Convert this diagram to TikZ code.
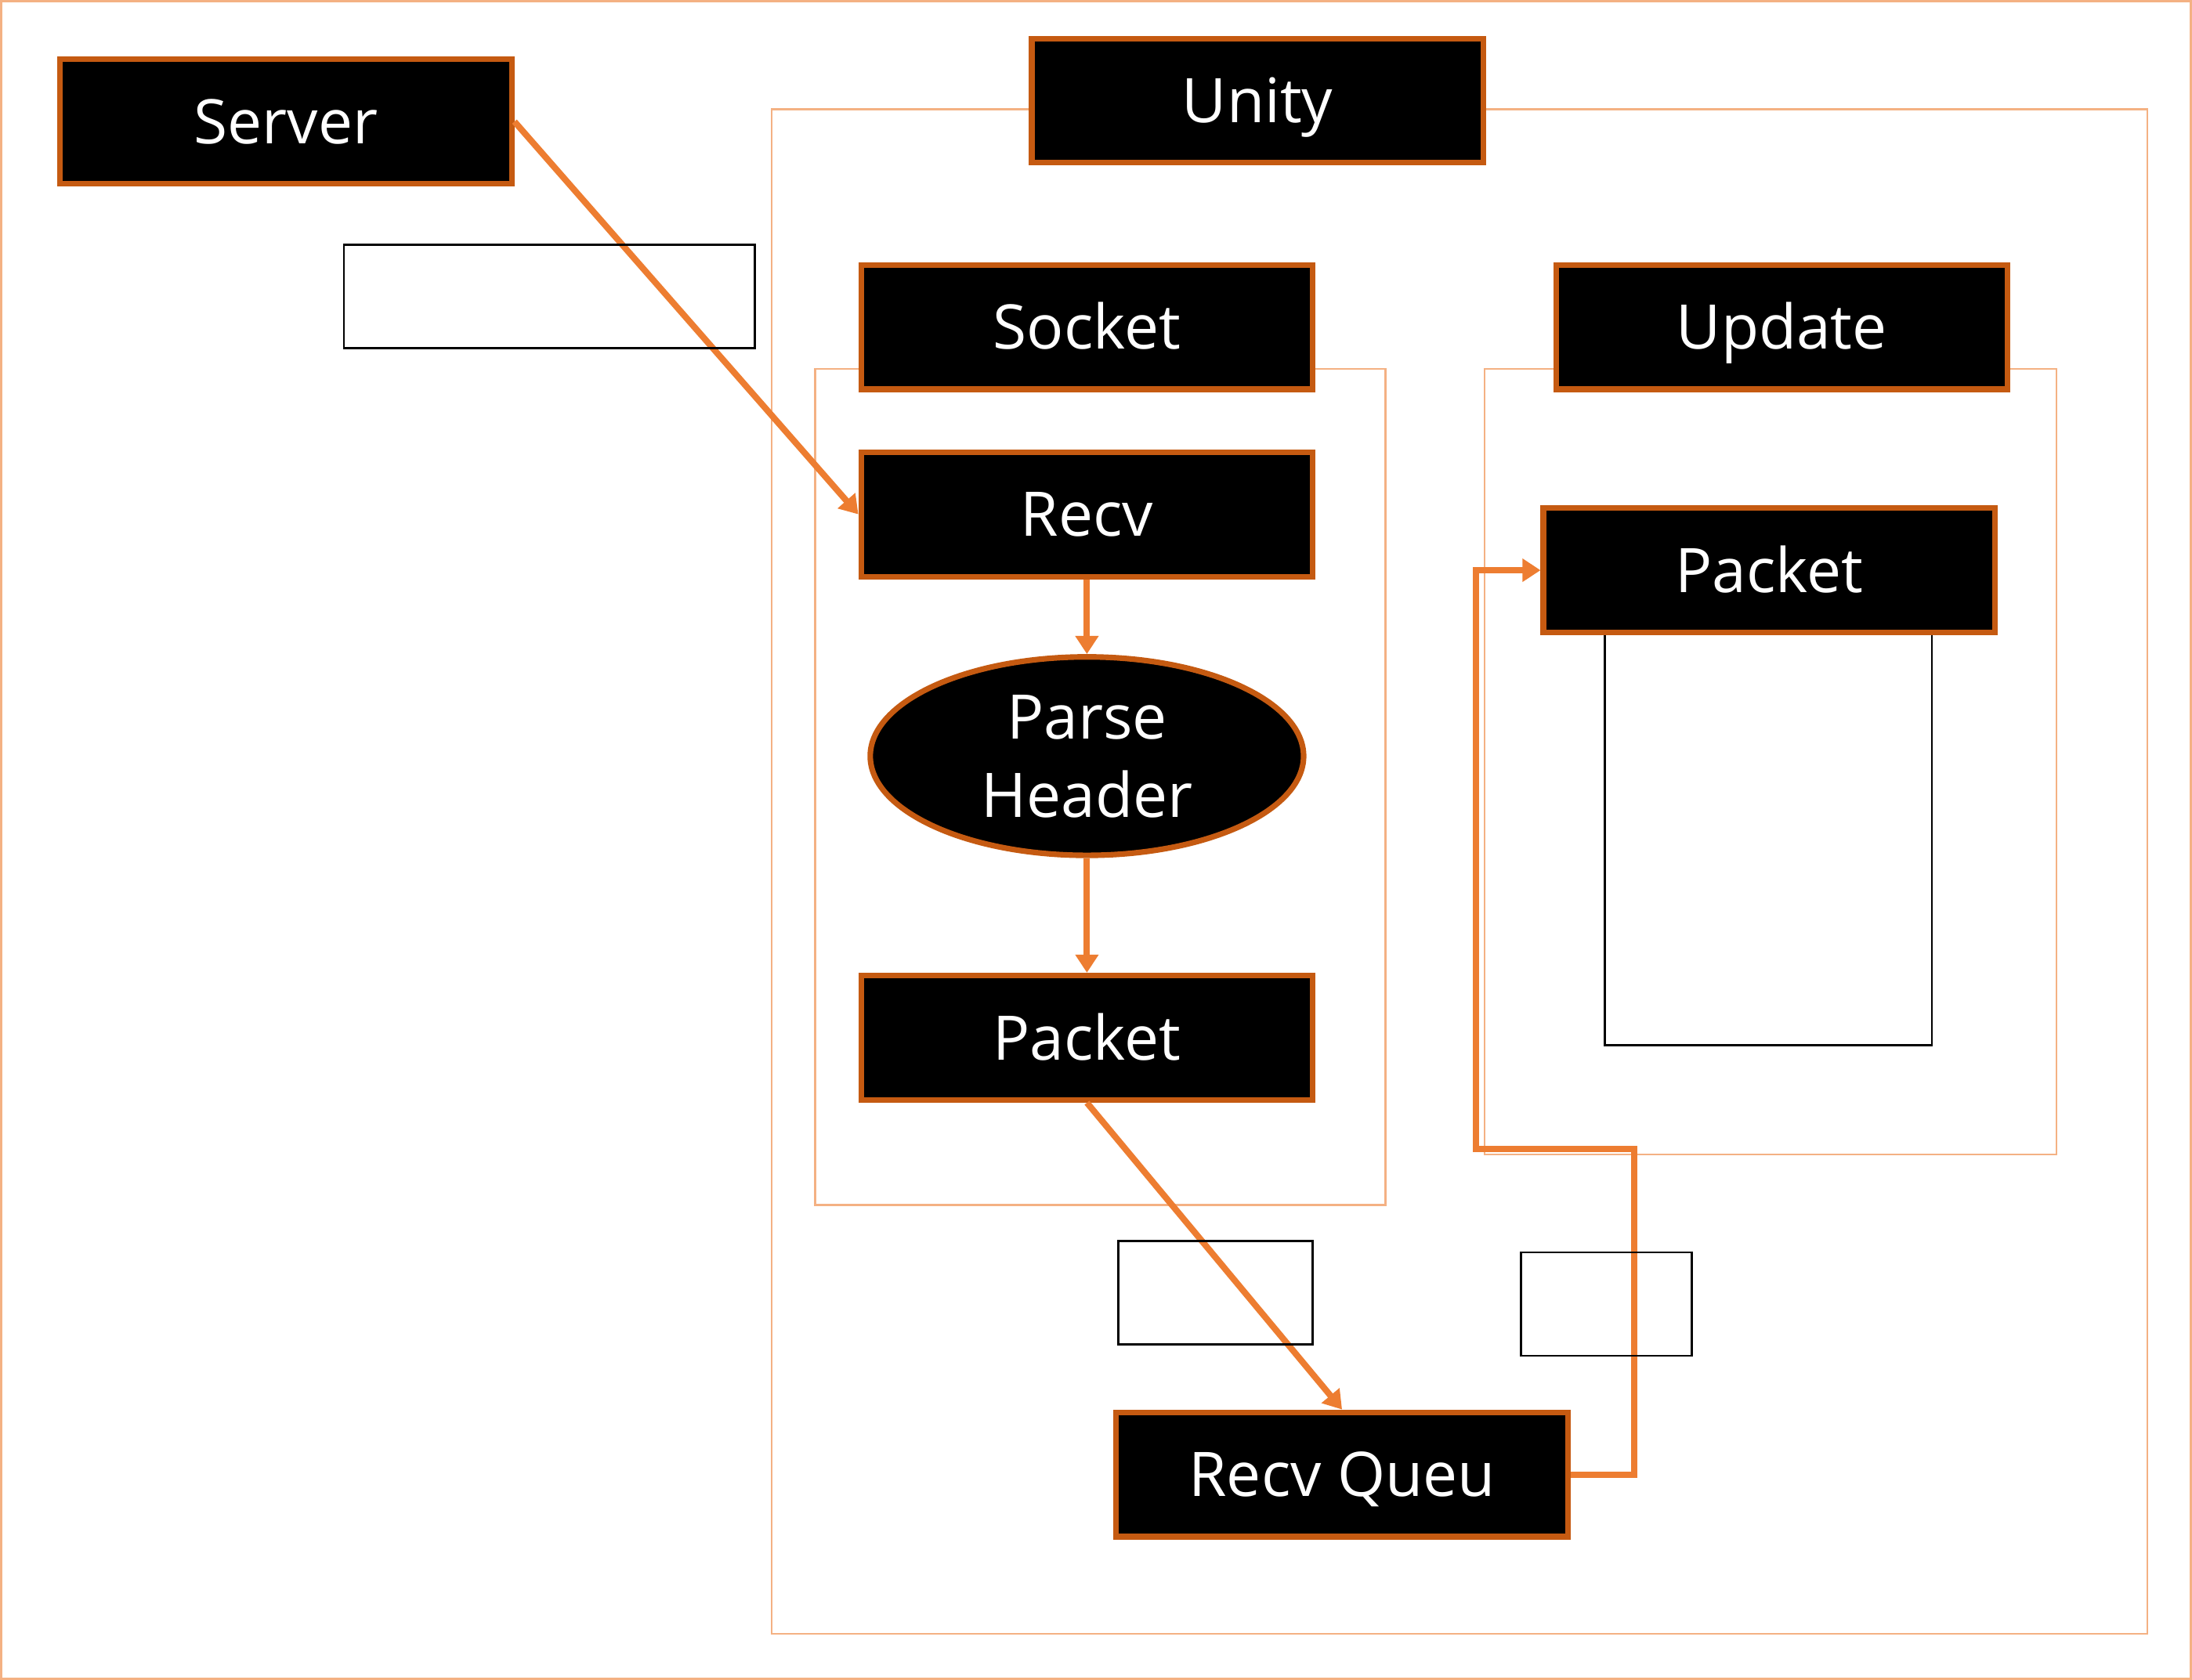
\documentclass[tikz,border=0pt]{standalone}
\usepackage{fontspec}
\setmainfont{Open Sans}
\usetikzlibrary{arrows.meta,shapes.geometric}
\definecolor{boxedge}{HTML}{C55A11}
\definecolor{conn}{HTML}{ED7D31}
\definecolor{cont}{HTML}{F4B183}
\tikzset{
  blkbox/.style={draw=boxedge, line width=4pt, fill=black, text=white, inner sep=0pt,
    minimum width=323pt, minimum height=89pt, font=\fontsize{44}{55}\selectfont,
    text height=31.5pt, text depth=0pt},
  blkell/.style={ellipse, draw=boxedge, line width=4pt, fill=black, text=white, inner sep=0pt,
    minimum width=310pt, minimum height=142pt, font=\fontsize{44}{56}\selectfont, align=center},
  contline/.style={draw=cont, line width=1.5pt},
  labbox/.style={draw=black, line width=1.5pt, inner sep=0pt},
  flow/.style={draw=conn, line width=4.5pt, -{Triangle[length=13pt,width=16pt]}}
}
\begin{document}
\begin{tikzpicture}[x=1pt,y=-1pt]
\useasboundingbox (0,0) rectangle (1568,1202);
% frames
\draw[contline] (0.75,0.75) rectangle (1567.25,1201.25);
\draw[contline] (552,78) rectangle (1536,1169);
\draw[contline] (583,264) rectangle (991,862);
\draw[contline] (1062,264) rectangle (1471,826);
% inner rectangle below right packet
\node[labbox, minimum width=234pt, minimum height=294pt] (memo) at (1265,601) {};
% nodes
\node[blkbox] (server) at (204.5,87) {Server};
\node[blkbox] (unity) at (899.5,72) {Unity};
\node[blkbox] (socket) at (777.5,234) {Socket};
\node[blkbox] (update) at (1274.5,234) {Update};
\node[blkbox] (recv) at (777.5,368) {Recv};
\node[blkell] (parse) at (777.5,541) {Parse\\Header};
\node[blkbox] (packetL) at (777.5,742.5) {Packet};
\node[blkbox] (packetR) at (1265.5,408) {Packet};
\node[blkbox] (recvq) at (960,1055) {Recv Queu};
% connectors
\coordinate (c1) at (1169,822);
\coordinate (c2) at (1056,822);
\draw[flow] (server.east) -- (recv.west);
\draw[flow] (recv.south) -- (parse.north);
\draw[flow] (parse.south) -- (packetL.north);
\draw[flow] (packetL.south) -- (recvq.north);
\draw[flow] (recvq.east) -| (c1) -- (c2) |- (packetR.west);
% label boxes
\node[labbox, minimum width=294pt, minimum height=74pt] (lab1) at (393,212) {};
\node[labbox, minimum width=139pt, minimum height=74pt] (lab2) at (869.5,925) {};
\node[labbox, minimum width=122pt, minimum height=74pt] (lab3) at (1149,933) {};
\end{tikzpicture}
\end{document}
